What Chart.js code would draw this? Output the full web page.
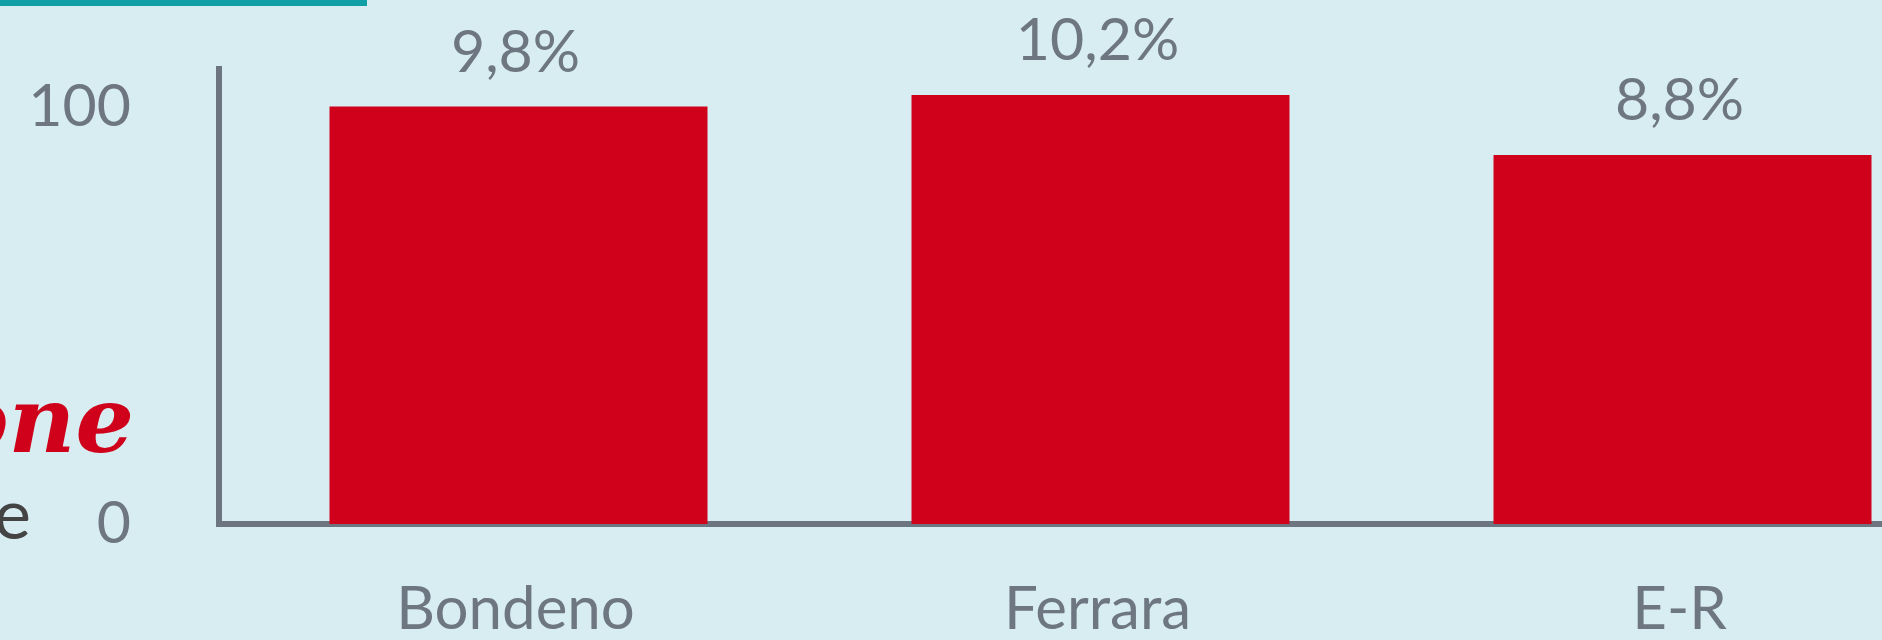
<!DOCTYPE html>
<html>
<head>
<meta charset="utf-8">
<script src="https://cdn.jsdelivr.net/npm/chart.js@4.4.1/dist/chart.umd.min.js"></script>
<style>
  html, body { margin: 0; padding: 0; width: 1882px; height: 640px; overflow: hidden; background: #d8edf2; }
  #wrap { position: relative; width: 1882px; height: 640px; overflow: hidden; }
  #chart { position: absolute; left: 0; top: 0; }
  .topbar { position: absolute; left: 0; top: 0; width: 367px; height: 6px; background: #0f9fa5; }
</style>
</head>
<body>
<div id="wrap">
  <canvas id="chart" width="2000" height="640"></canvas>
  <div class="topbar"></div>
</div>
<script>
// data (bars are an index, Bondeno = 100)
const categories = ['Bondeno', 'Ferrara', 'E-R'];
const indexValues = [100, 102.8, 88.4];
const pctLabels = ['9,8%', '10,2%', '8,8%'];
const tickValues = [0, 100];
const tickLabels = ['0', '100'];

const red = '#d0021b';
const grey = '#6e7781';
const axisGrey = '#6d7580';

// percentage labels above the bars
const barLabels = {
    id: 'barLabels',
    afterDatasetsDraw(chart) {
        const ctx = chart.ctx;
        const meta = chart.getDatasetMeta(0);
        ctx.save();
        ctx.font = '59px Lato';
        ctx.fillStyle = grey;
        ctx.textAlign = 'center';
        ctx.textBaseline = 'alphabetic';
        meta.data.forEach((bar, i) => {
            ctx.fillText(pctLabels[i], bar.x - 3, bar.y - 35);
        });
        ctx.restore();
    }
};

// pieces of the slide text cut off at the left edge
const slideText = {
    id: 'slideText',
    beforeDraw(chart) {
        const ctx = chart.ctx;
        ctx.save();
        ctx.textAlign = 'right';
        ctx.textBaseline = 'alphabetic';
        ctx.fillStyle = red;
        ctx.font = 'bold italic 92px "DejaVu Serif"';
        ctx.fillText('one', 134, 452);
        ctx.fillStyle = '#444444';
        ctx.font = '70px Lato';
        ctx.fillText('e', 31, 539);
        ctx.restore();
    }
};

new Chart(document.getElementById('chart'), {
    type: 'bar',
    data: {
        datasets: [{
            data: indexValues.map((v, i) => ({ x: i, y: v })),
            backgroundColor: red,
            borderWidth: 0,
            categoryPercentage: 1,
            barPercentage: 0.6495
        }]
    },
    options: {
        responsive: false,
        animation: false,
        layout: { padding: { top: 69, right: 26.5, left: 0, bottom: 0 } },
        plugins: {
            legend: { display: false },
            tooltip: { enabled: false }
        },
        scales: {
            x: {
                type: 'linear',
                min: -0.5146,
                max: 2.5,
                offset: false,
                z: 1,
                grid: { display: false, offset: false },
                border: { display: true, width: 6, color: axisGrey },
                ticks: {
                    color: grey,
                    font: { family: 'Lato', size: 60 },
                    padding: 42,
                    labelOffset: -3,
                    callback: (v) => categories[v]
                },
                afterBuildTicks: (s) => { s.ticks = categories.map((c, i) => ({ value: i })); },
                afterFit: (s) => { s.height = 116; s.paddingLeft = 0; s.paddingRight = 0; }
            },
            y: {
                min: 0,
                max: 109,
                grid: { display: false },
                border: { display: true, width: 6, color: axisGrey },
                ticks: {
                    color: grey,
                    font: { family: 'Lato', size: 59 },
                    padding: 80,
                    callback: (v) => tickLabels[tickValues.indexOf(v)]
                },
                afterBuildTicks: (s) => { s.ticks = tickValues.map(v => ({ value: v })); },
                afterFit: (s) => { s.width = 219; s.paddingTop = 0; s.paddingBottom = 0; }
            }
        }
    },
    plugins: [barLabels, slideText]
});
</script>
</body>
</html>
